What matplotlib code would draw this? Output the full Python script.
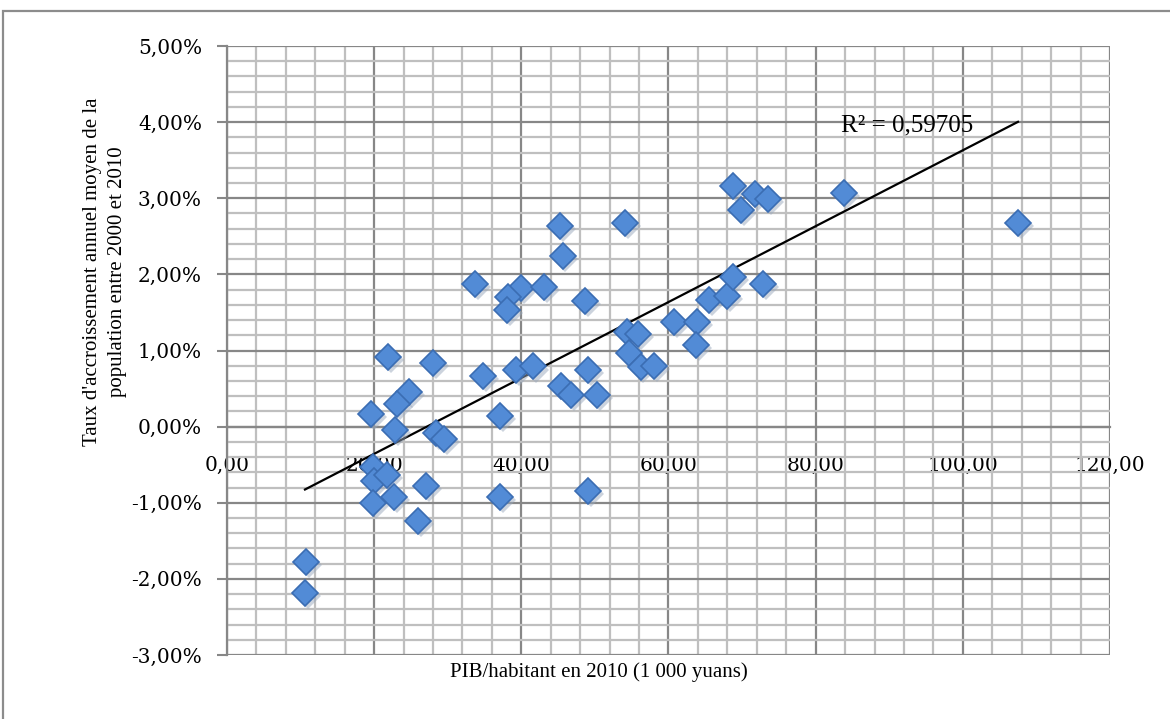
import matplotlib.pyplot as plt
import numpy as np
from matplotlib.ticker import MultipleLocator, FuncFormatter
from matplotlib.patches import Rectangle

# PIB/habitant 2010 (1 000 yuans) vs taux d'accroissement annuel (%)
pib = [10.7, 10.6, 19.6, 21.9, 28.0, 34.8, 39.3, 41.6, 24.7, 23.1,
       37.1, 22.9, 28.4, 29.5, 19.9, 20.0, 21.8, 27.1, 37.1, 19.9,
       22.7, 25.9, 45.2, 54.1, 45.6, 33.7, 39.9, 43.1, 38.2, 38.1,
       48.7, 60.7, 63.9, 54.4, 55.9, 54.6, 56.2, 58.1, 63.7, 49.1,
       45.4, 46.7, 50.3, 49.1, 65.5, 68.0, 68.8, 72.8, 68.8, 71.7,
       73.5, 69.8, 83.8, 107.5]
taux = [-1.78, -2.18, 0.17, 0.91, 0.83, 0.67, 0.75, 0.79, 0.45, 0.30,
        0.14, -0.04, -0.09, -0.16, -0.53, -0.71, -0.63, -0.78, -0.92, -1.00,
        -0.93, -1.24, 2.64, 2.67, 2.24, 1.87, 1.82, 1.83, 1.70, 1.53,
        1.65, 1.37, 1.37, 1.24, 1.22, 0.97, 0.78, 0.80, 1.07, 0.75,
        0.53, 0.41, 0.41, -0.84, 1.67, 1.72, 1.96, 1.88, 3.16, 3.05,
        2.99, 2.84, 3.07, 2.68]
r2_label = "R² = 0,59705"
xlabel = "PIB/habitant en 2010 (1 000 yuans)"
ylabel = "Taux d'accroissement annuel moyen de la\npopulation entre 2000 et 2010"

x = np.array(pib)
y = np.array(taux)

plt.rcParams['font.family'] = 'DejaVu Serif'

fig = plt.figure(figsize=(11.7, 7.19), dpi=100)
ax = fig.add_axes([0.194, 0.089, 0.7547, 0.847])

# outer frame of the document box
fig.patches.append(Rectangle((3 / 1170, -0.1), 1.2, (719 - 11) / 719 + 0.1,
                             transform=fig.transFigure, fill=False,
                             edgecolor='#8c8c8c', linewidth=1.6))

ax.set_xlim(0, 120)
ax.set_ylim(-3, 5)
ax.xaxis.set_major_locator(MultipleLocator(20))
ax.xaxis.set_minor_locator(MultipleLocator(4))
ax.yaxis.set_major_locator(MultipleLocator(1))
ax.yaxis.set_minor_locator(MultipleLocator(0.2))
ax.grid(which='minor', color='#bfbfbf', linewidth=1.6)
ax.grid(which='major', color='#878787', linewidth=1.6)
ax.set_axisbelow(True)

for s in ['top', 'right']:
    ax.spines[s].set_visible(False)
ax.spines['bottom'].set_position(('data', 0))
ax.spines['bottom'].set_color('#878787')
ax.spines['bottom'].set_linewidth(1.6)
ax.spines['left'].set_color('#878787')
ax.spines['left'].set_linewidth(1.6)

ax.xaxis.set_major_formatter(FuncFormatter(lambda v, p: f"{v:.2f}".replace('.', ',')))
ax.yaxis.set_major_formatter(FuncFormatter(lambda v, p: f"{v:.2f}%".replace('.', ',')))
ax.tick_params(axis='x', which='both', length=0, pad=21, labelsize=14.5)
ax.tick_params(axis='y', which='major', length=7, width=1.5, color='#878787',
               pad=11, labelsize=14.5)
ax.tick_params(axis='y', which='minor', length=0)

# trend line
a, b = np.polyfit(x, y, 1)
xs = np.array([x.min(), x.max()])
ax.plot(xs, a * xs + b, color='black', linewidth=1.6, zorder=3)

# shadow + diamonds
ax.plot(x + 0.4, y - 0.04, 'D', ms=13, color='#9aa9bd', alpha=0.5,
        markeredgewidth=0, zorder=3.5)
ax.plot(x, y, 'D', ms=13, markerfacecolor='#528bd6', markeredgecolor='#3b6db3',
        markeredgewidth=1.2, zorder=4)

ax.text(83.4, 3.95, r2_label, fontsize=18, family='Liberation Serif',
        ha='left', va='center', zorder=5)

ax.set_xlabel(xlabel, fontsize=15, family='Liberation Serif')
ax.xaxis.set_label_coords(0.421, -0.012)
ax.set_ylabel(ylabel, fontsize=15, family='Liberation Serif', linespacing=1.45)
ax.yaxis.set_label_coords(-0.113, 0.63)

fig.savefig('out.png', dpi=100)
